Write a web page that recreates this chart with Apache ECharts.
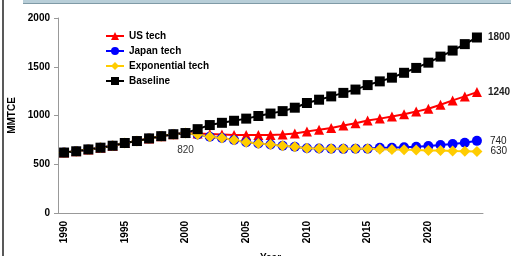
<!DOCTYPE html>
<html lang="en">
<head>
    <meta charset="UTF-8">
    <title>MMTCE</title>
    <script src="https://cdn.jsdelivr.net/npm/echarts@6/dist/echarts.min.js"></script>
    <style>
        body { margin: 0; background: #fff; }
        #chart { width: 511px; height: 256px; }
    </style>
</head>
<body>
    <div id="chart"></div>
    <script>
        const years = [];
        for (let y = 1990; y <= 2024; y++) years.push(String(y));

        // 1990 - 2000 common history
        const history = [620, 633, 652, 670, 690, 718, 738, 765, 788, 808, 820];

        const usTech = history.concat([815, 810, 805, 800, 800, 800, 800, 805, 815,
            835, 855, 872, 898, 920, 948, 968, 990, 1012, 1040, 1070, 1110, 1155, 1196, 1240]);
        const japanTech = history.concat([805, 782, 770, 748, 726, 713, 703, 690, 680,
            665, 662, 660, 658, 660, 660, 670, 670, 675, 680, 688, 697, 707, 720, 740]);
        const exponentialTech = history.concat([805, 782, 770, 748, 726, 713, 703, 690, 680,
            665, 662, 660, 658, 660, 660, 655, 652, 650, 646, 642, 640, 636, 634, 630]);
        const baseline = history.concat([860, 902, 925, 946, 968, 995, 1020, 1045, 1080,
            1128, 1162, 1196, 1232, 1266, 1312, 1350, 1388, 1438, 1488, 1542, 1604, 1666, 1732, 1800]);

        const yTicks = { min: 0, max: 2000, interval: 500 };

        const font = 'Liberation Sans, Arial, sans-serif';

        // put a label on chosen points
        function withLabels(values, labels) {
            return values.map((v, i) => {
                if (!labels[i]) return v;
                return { value: v, label: Object.assign({ show: true, fontFamily: font, fontSize: 10 }, labels[i]) };
            });
        }
        const last = years.length - 1;

        const lineBase = {
            type: 'line', showSymbol: true, showAllSymbol: true,
            symbolSize: 9, lineStyle: { width: 2 }, labelLayout: { hideOverlap: false }
        };

        const chart = echarts.init(document.getElementById('chart'));
        chart.setOption({
            animation: false,
            textStyle: { fontFamily: font },
            grid: { left: 58, right: 28, top: 18, bottom: 43, outerBoundsMode: 'none', containLabel: false },
            legend: {
                orient: 'vertical',
                left: 100,
                top: 26,
                itemWidth: 18,
                itemHeight: 10,
                itemGap: 5,
                textStyle: { fontSize: 10, fontWeight: 'bold', color: '#000', fontFamily: font },
                data: ['US tech', 'Japan tech', 'Exponential tech', 'Baseline']
            },
            xAxis: {
                type: 'category',
                data: years,
                name: 'Year',
                nameLocation: 'middle',
                nameGap: 40,
                nameTextStyle: { fontSize: 10, fontWeight: 'bold', color: '#000' },
                axisLine: { lineStyle: { color: '#999' } },
                axisTick: { interval: 4, length: 4, lineStyle: { color: '#999' } },
                axisLabel: { interval: 4, rotate: 90, fontSize: 10, fontWeight: 'bold', color: '#000', margin: 8 }
            },
            yAxis: {
                type: 'value',
                min: yTicks.min,
                max: yTicks.max,
                interval: yTicks.interval,
                name: 'MMTCE',
                nameLocation: 'middle',
                nameGap: 32,
                nameTextStyle: { fontSize: 10, fontWeight: 'bold', color: '#000' },
                splitLine: { show: false },
                axisLine: { show: true, lineStyle: { color: '#999' } },
                axisTick: { show: true, length: 4, lineStyle: { color: '#999' } },
                axisLabel: { fontSize: 10, fontWeight: 'bold', color: '#000', margin: 8, formatter: v => String(v) }
            },
            series: [
                Object.assign({}, lineBase, {
                    name: 'US tech', color: '#ff0000', symbol: 'triangle', symbolSize: 10,
                    data: withLabels(usTech, { [last]: { position: 'right', distance: 6, fontWeight: 'bold', color: '#222' } })
                }),
                Object.assign({}, lineBase, {
                    name: 'Japan tech', color: '#0000ff', symbol: 'circle', symbolSize: 10,
                    data: withLabels(japanTech, { [last]: { position: 'right', distance: 8, color: '#222' } })
                }),
                Object.assign({}, lineBase, {
                    name: 'Exponential tech', color: '#ffcc00', symbol: 'diamond', symbolSize: 11,
                    data: withLabels(exponentialTech, { [last]: { position: 'right', distance: 8, color: '#222' } })
                }),
                Object.assign({}, lineBase, {
                    name: 'Baseline', color: '#000', symbol: 'rect', symbolSize: 10,
                    data: withLabels(baseline, {
                        10: { position: 'bottom', distance: 7, color: '#333' },
                        [last]: { position: 'right', distance: 6, fontWeight: 'bold', color: '#222' }
                    })
                })
            ],
            graphic: [
                { type: 'rect', shape: { x: 23, y: 0, width: 488, height: 3 }, style: { fill: '#b8ced8' } },
                { type: 'line', shape: { x1: 23, y1: 3.5, x2: 511, y2: 3.5 }, style: { stroke: '#7f9aa6', lineWidth: 1 } },
                { type: 'line', shape: { x1: 3, y1: 0, x2: 3, y2: 256 }, style: { stroke: '#222', lineWidth: 1.5 } }
            ]
        });
    </script>
</body>
</html>
